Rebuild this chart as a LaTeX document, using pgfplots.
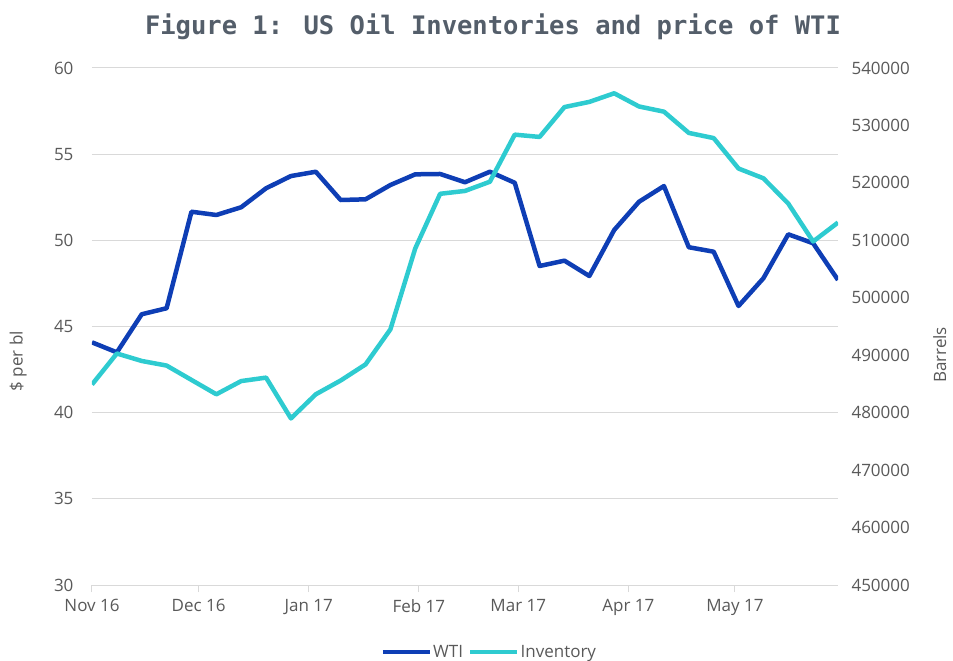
\documentclass[border=0pt]{standalone}
\usepackage{fontspec}
\setmainfont{Open Sans}
\newfontfamily\titlefont{DejaVu Sans Mono}
\usepackage{pgfplots}
\pgfplotsset{compat=1.18}
\definecolor{wti}{RGB}{14,62,181}
\definecolor{inv}{RGB}{46,203,208}
\definecolor{tickgray}{RGB}{89,89,89}
\definecolor{gridgray}{RGB}{217,217,217}
\definecolor{titlegray}{RGB}{84,94,106}
\pgfplotstableread{
day wti
0 44.08
7 43.50
14 45.71
21 46.06
28 51.66
35 51.47
42 51.92
49 53.02
56 53.73
63 53.98
70 52.34
77 52.38
84 53.21
91 53.83
98 53.85
105 53.37
112 53.98
119 53.34
126 48.51
133 48.82
140 47.93
147 50.60
154 52.24
161 53.15
168 49.60
175 49.34
182 46.19
189 47.80
196 50.35
203 49.83
210 47.70
}\wtitable
\pgfplotstableread{
day inv
0 484900
7 490300
14 489000
21 488200
28 485700
35 483200
42 485500
49 486100
56 479000
63 483200
70 485600
77 488400
84 494500
91 508600
98 518100
105 518600
112 520200
119 528400
126 528000
133 533200
140 534100
147 535600
154 533300
161 532400
168 528700
175 527800
182 522500
189 520800
196 516400
203 509800
210 513100
}\invtable
\begin{document}
\begin{tikzpicture}
\path[use as bounding box] (-92pt,-76pt) rectangle (861pt,585pt);
\begin{axis}[
  scale only axis, width=746pt, height=517pt,
  xmin=0, xmax=210, ymin=30, ymax=60,
  ytick={30,35,40,45,50,55,60},
  xtick={0,30,61,92,120,151,181},
  xticklabels={Nov 16,Dec 16,Jan 17,Feb 17,Mar 17,Apr 17,May 17},
  axis x line*=bottom, axis y line*=left,
  x axis line style={draw=gridgray, line width=1pt, -},
  y axis line style={draw=none},
  ymajorgrids, grid style={draw=gridgray, line width=1pt},
  xtick style={draw=gridgray, line width=1pt},
  ytick style={draw=none},
  tick align=outside, major tick length=7pt,
  ticklabel style={font=\fontsize{17}{20}\selectfont, text=tickgray},
  /pgf/number format/assume math mode=true,
  xticklabel style={yshift=-4pt},
  yticklabel style={xshift=-8pt},
  ylabel={\$ per bl},
  every axis y label/.style={at={(axis description cs:-0.099,0.433)}, rotate=90, anchor=center, font=\fontsize{17}{20}\selectfont, text=tickgray},
  legend style={at={(0.532,-0.13)}, anchor=center, draw=none, fill=none, legend columns=2,
    font=\fontsize{17}{20}\selectfont, text=tickgray,
    /tikz/every even column/.append style={column sep=4pt},
    inner sep=0pt, nodes={inner sep=1pt}},
  legend image code/.code={\draw[#1] (0pt,0pt) -- (47pt,0pt);},
]
\addplot[wti, line width=4.5pt, line join=round] table[x=day,y=wti]{\wtitable};
\addlegendentry{WTI}
\addlegendimage{inv, line width=4.5pt}
\addlegendentry{Inventory}
\end{axis}
\begin{axis}[
  scale only axis, width=746pt, height=517pt,
  xmin=0, xmax=210, ymin=450000, ymax=540000,
  ytick distance=10000,
  axis x line=none, axis y line*=right,
  y axis line style={draw=none},
  ytick style={draw=none},
  scaled y ticks=false,
  yticklabel style={/pgf/number format/.cd, fixed, 1000 sep={}, /tikz/.cd, font=\fontsize{17}{20}\selectfont, text=tickgray, xshift=10pt},
  /pgf/number format/assume math mode=true,
  ylabel={Barrels},
  every axis y label/.style={at={(axis description cs:1.1365,0.445)}, rotate=90, anchor=center, font=\fontsize{17}{20}\selectfont, text=tickgray},
]
\addplot[inv, line width=4.5pt, line join=round] table[x=day,y=inv]{\invtable};
\end{axis}
\node[font=\titlefont\bfseries\fontsize{25.5}{30}\selectfont, text=titlegray] at (401pt,558pt) {Figure 1: US Oil Inventories and price of WTI};
\end{tikzpicture}
\end{document}
